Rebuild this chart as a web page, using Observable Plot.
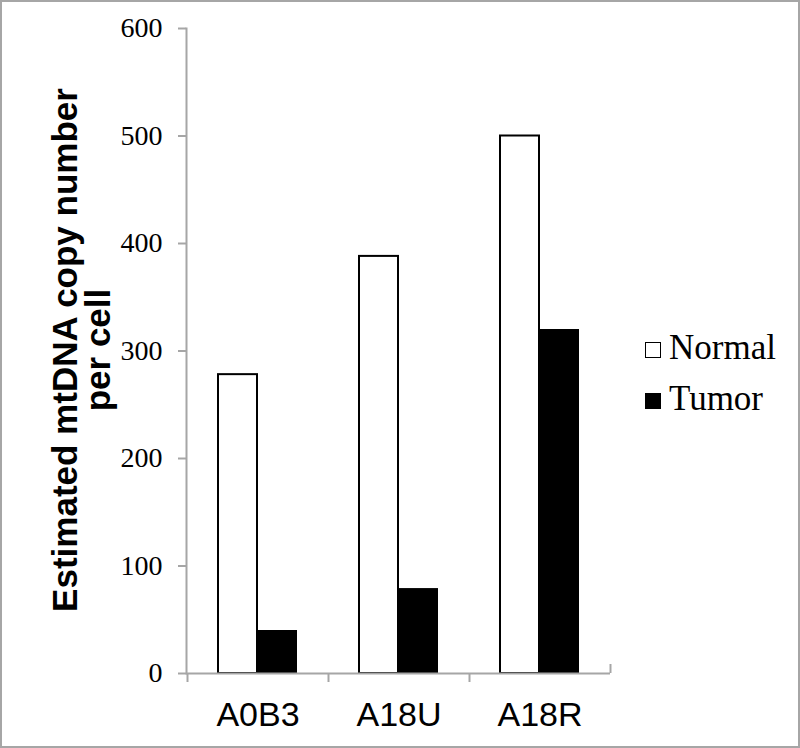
<!DOCTYPE html>
<html>
<head>
<meta charset="utf-8">
<script src="https://cdn.jsdelivr.net/npm/d3@7"></script>
<script src="https://cdn.jsdelivr.net/npm/@observablehq/plot@0.6"></script>
<style>
  html, body { margin: 0; padding: 0; background: #fff; }
  #wrap { position: relative; width: 800px; height: 748px; overflow: hidden; }
  #border { position: absolute; left: 0; top: 0; width: 800px; height: 748px; box-sizing: border-box; border: 2px solid #a6a6a6; pointer-events: none; }
  #ytitle { position: absolute; left: 81px; top: 350px; transform: translate(-50%, -50%) rotate(-90deg);
    font-family: "Liberation Sans", Arial, sans-serif; font-weight: bold; font-size: 35px; line-height: 33px;
    text-align: center; white-space: nowrap; color: #000; }
  #legend { position: absolute; left: 645px; top: 322px; font-family: "Liberation Serif", "Times New Roman", serif; font-size: 35px; color: #000; }
  .item { display: flex; align-items: center; height: 51px; }
  .sw { width: 16px; height: 16px; box-sizing: border-box; border: 1.5px solid #000; margin-right: 8px; margin-top: 4px; }
</style>
</head>
<body>
<div id="wrap">
  <div id="chart"></div>
  <div id="ytitle">Estimated mtDNA copy number<br>per cell</div>
  <div id="legend"></div>
  <div id="border"></div>
</div>
<script>
const categories = ["A0B3", "A18U", "A18R"];
const series = ["Normal", "Tumor"];
const normalValues = [278, 388, 500];
const tumorValues = [40, 79, 320];
const yTicks = [0, 100, 200, 300, 400, 500, 600];

const normalData = categories.map((c, i) => ({category: c, value: normalValues[i]}));
const tumorData = categories.map((c, i) => ({category: c, value: tumorValues[i]}));

const axisGray = "#a6a6a6";

const chart = Plot.plot({
  width: 800,
  height: 748,
  marginLeft: 186,
  marginRight: 190,
  marginTop: 28,
  marginBottom: 75,
  style: {background: "transparent"},
  x: {type: "band", domain: categories, paddingInner: 0, paddingOuter: 0},
  y: {domain: [0, 600]},
  marks: [
    Plot.barY(normalData, {x: "category", y: "value", fill: "white", stroke: "black", strokeWidth: 2, insetLeft: 31, insetRight: 71}),
    Plot.barY(tumorData, {x: "category", y: "value", fill: "black", insetLeft: 70, insetRight: 31}),
    Plot.ruleY([0], {stroke: axisGray, strokeWidth: 2}),
    Plot.frame({anchor: "left", stroke: axisGray, strokeWidth: 2}),
    Plot.axisY({ticks: yTicks, tickSize: 8, tickPadding: 16, stroke: axisGray, strokeWidth: 2, label: null,
      fontSize: 28, fontFamily: "Liberation Serif, Times New Roman, serif", color: "black"}),
    Plot.axisX({tickSize: 9, dx: -70.5, stroke: axisGray, strokeWidth: 2, tickFormat: () => "", label: null}),
    Plot.ruleX(categories.slice(-1), {x: d => d, y1: 0, y2: 0, dx: 70.5, insetTop: -9, stroke: axisGray, strokeWidth: 2}),
    Plot.axisX({tickSize: 0, tickPadding: 28, label: null, fontSize: 34, fontFamily: "Liberation Sans, Arial, sans-serif", color: "black"})
  ]
});
chart.querySelectorAll("text").forEach(t => t.setAttribute("fill", "black"));
document.getElementById("chart").appendChild(chart);

const legend = d3.select("#legend");
const legendFill = {Normal: "white", Tumor: "black"};
series.forEach(s => {
  const it = legend.append("div").attr("class", "item");
  it.append("div").attr("class", "sw").style("background", legendFill[s]);
  it.append("span").text(s);
});
</script>
</body>
</html>
